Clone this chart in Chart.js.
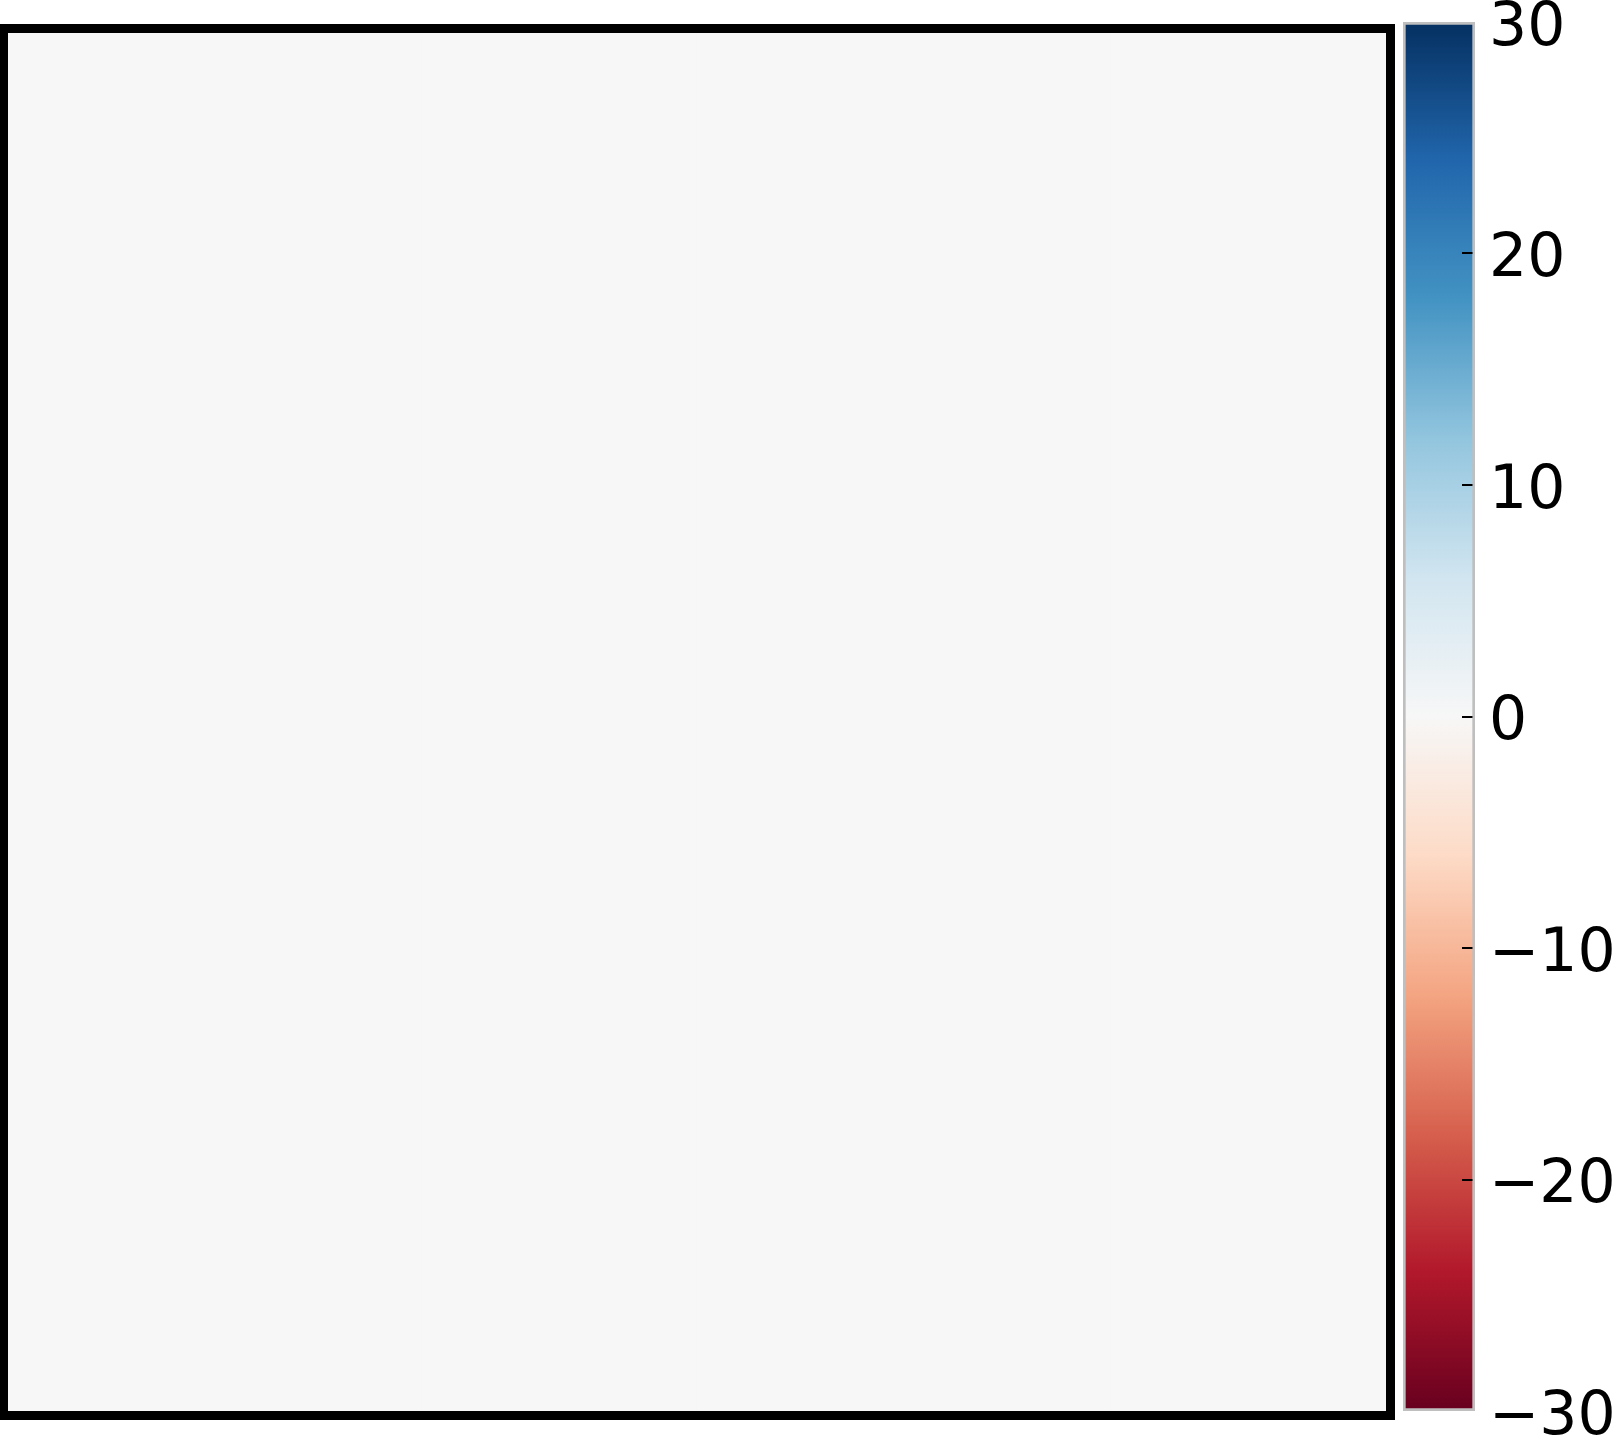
<!DOCTYPE html>
<html>
<head>
<meta charset="utf-8">
<script src="https://cdn.jsdelivr.net/npm/chart.js@4"></script>
<style>
  html, body { margin: 0; padding: 0; background: #fff; overflow: hidden; }
  body { width: 1618px; height: 1445px; position: relative; }
  #heatBox { position: absolute; left: -1px; top: 24px; width: 1396px; height: 1396px;
             box-sizing: border-box; border: 9px solid #000; background: #fff; }
  #heat { display: block; }
  #cbar { position: absolute; left: 1380px; top: -40px; }
</style>
</head>
<body>
<div id="heatBox"><canvas id="heat" width="1378" height="1378"></canvas></div>
<canvas id="cbar" width="238" height="1508"></canvas>
<script>
// heatmap cells (every cell reads 0 in the picture)
const colLabels = ['0', '1', '2', '3', '4', '5', '6', '7', '8', '9'];
const rowLabels = ['0', '1', '2', '3', '4', '5', '6', '7', '8', '9'];
const values = [
    [0, 0, 0, 0, 0, 0, 0, 0, 0, 0],
    [0, 0, 0, 0, 0, 0, 0, 0, 0, 0],
    [0, 0, 0, 0, 0, 0, 0, 0, 0, 0],
    [0, 0, 0, 0, 0, 0, 0, 0, 0, 0],
    [0, 0, 0, 0, 0, 0, 0, 0, 0, 0],
    [0, 0, 0, 0, 0, 0, 0, 0, 0, 0],
    [0, 0, 0, 0, 0, 0, 0, 0, 0, 0],
    [0, 0, 0, 0, 0, 0, 0, 0, 0, 0],
    [0, 0, 0, 0, 0, 0, 0, 0, 0, 0],
    [0, 0, 0, 0, 0, 0, 0, 0, 0, 0]
];
// colour bar
const cbMin = -30;
const cbMax = 30;
const cbTicks = [30, 20, 10, 0, -10, -20, -30];

// RdBu
const rdbu = ['#67001f', '#b2182b', '#d6604d', '#f4a582', '#fddbc7', '#f7f7f7',
              '#d1e5f0', '#92c5de', '#4393c3', '#2166ac', '#053061'];

function hexToRgb(h) {
    return [parseInt(h.slice(1, 3), 16), parseInt(h.slice(3, 5), 16), parseInt(h.slice(5, 7), 16)];
}
function colorFor(v) {
    let t = (v - cbMin) / (cbMax - cbMin);
    t = Math.max(0, Math.min(1, t)) * (rdbu.length - 1);
    const i = Math.min(Math.floor(t), rdbu.length - 2);
    const f = t - i;
    const a = hexToRgb(rdbu[i]), b = hexToRgb(rdbu[i + 1]);
    const c = a.map((x, k) => Math.round(x + (b[k] - x) * f));
    return 'rgb(' + c.join(',') + ')';
}

Chart.defaults.font.family = 'DejaVu Sans';
Chart.defaults.animation = false;

// heatmap: one floating bar per cell, row r spans [r, r+1]
const heatSets = rowLabels.map((row, r) => ({
    label: row,
    data: colLabels.map((col, c) => ({ x: c + 0.5, y: [r, r + 1] })),
    backgroundColor: values[r].map(colorFor),
    borderWidth: 0,
    barPercentage: 1,
    categoryPercentage: 1,
    grouped: false
}));

new Chart(document.getElementById('heat'), {
    type: 'bar',
    data: { datasets: heatSets },
    options: {
        responsive: false,
        devicePixelRatio: 1,
        layout: { padding: 0 },
        plugins: { legend: { display: false }, tooltip: { enabled: false } },
        scales: {
            x: { type: 'linear', min: 0, max: colLabels.length, offset: false, display: false },
            y: { type: 'linear', min: 0, max: rowLabels.length, display: false }
        }
    }
});

function cbGradient(ctx) {
    const chart = ctx.chart;
    if (!chart.chartArea) return null;
    const y = chart.scales.y;
    const g = chart.ctx.createLinearGradient(0, y.getPixelForValue(cbMin), 0, y.getPixelForValue(cbMax));
    rdbu.forEach((c, i) => g.addColorStop(i / (rdbu.length - 1), c));
    return g;
}

new Chart(document.getElementById('cbar'), {
    type: 'bar',
    data: {
        labels: ['cb'],
        datasets: [{
            data: [[cbMin, cbMax]],
            backgroundColor: cbGradient,
            borderColor: '#bfbfbf',
            borderWidth: 3,
            borderSkipped: false,
            barPercentage: 1,
            categoryPercentage: 1
        }]
    },
    options: {
        responsive: false,
        devicePixelRatio: 1,
        layout: { padding: { left: 23, top: 62, bottom: 54, right: 0 } },
        plugins: { legend: { display: false }, tooltip: { enabled: false } },
        scales: {
            x: { display: false },
            y: {
                position: 'right',
                min: cbMin,
                max: cbMax,
                afterFit: s => { s.width = 143; },
                afterBuildTicks: s => { s.ticks = cbTicks.map(v => ({ value: v })); },
                border: { display: true, width: -6, color: 'rgba(0,0,0,0)' },
                grid: {
                    drawOnChartArea: false, drawTicks: true, tickLength: -13, lineWidth: 2, z: 1,
                    // end ticks sit under the outline
                    color: c => (c.tick && (c.tick.value === cbMin || c.tick.value === cbMax)) ? 'rgba(0,0,0,0)' : '#000'
                },
                ticks: {
                    color: '#000',
                    padding: 27,
                    labelOffset: 7,
                    font: { family: 'DejaVu Sans', size: 60, lineHeight: 1 },
                    callback: v => v < 0 ? '\u2212' + Math.abs(v) : String(v)
                }
            }
        }
    }
});
</script>
</body>
</html>
